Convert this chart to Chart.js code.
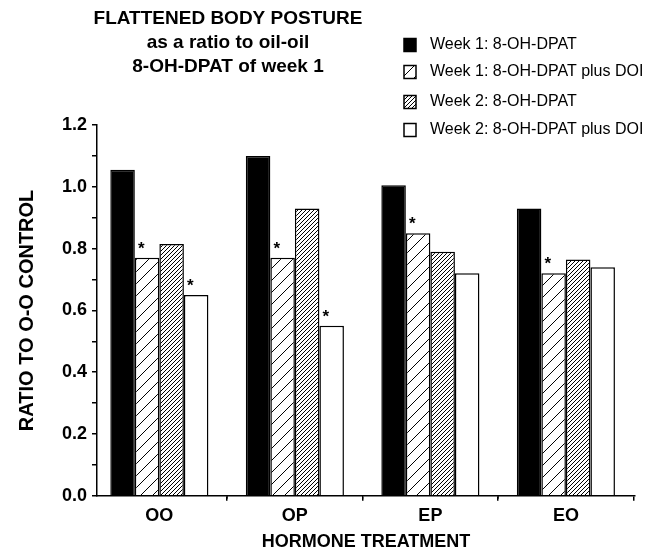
<!DOCTYPE html>
<html>
<head>
<meta charset="utf-8">
<script src="https://cdn.jsdelivr.net/npm/chart.js@4.4.1/dist/chart.umd.min.js"></script>
<style>
html,body{margin:0;padding:0;background:#fff;}
#wrap{width:650px;height:558px;position:relative;}
</style>
</head>
<body>
<div id="wrap"><canvas id="c" width="650" height="558"></canvas></div>
<script>
// ---- data ----
const categories = ['OO', 'OP', 'EP', 'EO'];
const seriesLabels = ['Week 1: 8-OH-DPAT', 'Week 1: 8-OH-DPAT plus DOI', 'Week 2: 8-OH-DPAT', 'Week 2: 8-OH-DPAT plus DOI'];
const week1Dpat      = [1.055, 1.10, 1.005, 0.93];
const week1DpatDoi   = [0.77, 0.77, 0.85, 0.72];
const week2Dpat      = [0.815, 0.93, 0.79, 0.765];
const week2DpatDoi   = [0.65, 0.55, 0.72, 0.74];
const week1DpatDoiSig = [true, true, true, true];
const week2DpatDoiSig = [true, true, false, false];
const yMajorTicks = [0, 0.2, 0.4, 0.6, 0.8, 1.0, 1.2];
const titleLines = ['FLATTENED BODY POSTURE', 'as a ratio to oil-oil', '8-OH-DPAT of week 1'];
const xTitle = 'HORMONE TREATMENT';
const yTitle = 'RATIO TO O-O CONTROL';

const FONT = '"Liberation Sans", Arial, Helvetica, sans-serif';
Chart.defaults.font.family = FONT;
Chart.defaults.color = '#000';

const canvas = document.getElementById('c');
const mainCtx = canvas.getContext('2d');

function hatch(size, lw) {
  const t = document.createElement('canvas');
  t.width = size; t.height = size;
  const x = t.getContext('2d');
  x.fillStyle = '#fff'; x.fillRect(0, 0, size, size);
  x.strokeStyle = '#000'; x.lineWidth = lw;
  x.beginPath();
  for (const k of [-1, 0, 1]) { x.moveTo(k * size, size); x.lineTo(k * size + size, 0); }
  x.stroke();
  return mainCtx.createPattern(t, 'repeat');
}
const sparse = hatch(12, 1);
const dense = hatch(4, 1);

const toPts = arr => arr.map((v, i) => ({ x: i + 1, y: v }));
const fills = ['#000', sparse, dense, '#fff'];
const series = [week1Dpat, week1DpatDoi, week2Dpat, week2DpatDoi];

const datasets = series.map((s, k) => ({
  label: seriesLabels[k],
  data: toPts(s),
  backgroundColor: fills[k],
  borderColor: '#000',
  borderWidth: 1.5,
  borderSkipped: 'bottom',
  categoryPercentage: 0.724,
  barPercentage: 1.0
}));

const sigList = [[1, week1DpatDoiSig], [3, week2DpatDoiSig]];

const annot = {
  id: 'annot',
  afterDatasetsDraw(chart) {
    const ctx = chart.ctx;
    ctx.save();
    ctx.fillStyle = '#000';
    // asterisks
    ctx.font = 'bold 17px ' + FONT;
    ctx.textAlign = 'center';
    ctx.textBaseline = 'alphabetic';
    sigList.forEach(([di, flags]) => {
      const meta = chart.getDatasetMeta(di);
      flags.forEach((f, i) => {
        if (!f) return;
        const el = meta.data[i];
        const left = el.x - el.width / 2;
        ctx.fillText('*', left + 6.5, el.y - 4);
      });
    });
    // minor x marks between categories
    const xs = chart.scales.x;
    const bottom = chart.chartArea.bottom;
    ctx.strokeStyle = '#000';
    ctx.lineWidth = 1.2;
    for (let i = 1; i < categories.length; i++) {
      const px = xs.getPixelForValue(i + 0.5);
      ctx.beginPath(); ctx.moveTo(px, bottom); ctx.lineTo(px, bottom + 3); ctx.stroke();
    }
    // title
    ctx.font = 'bold 19px ' + FONT;
    ctx.textAlign = 'center';
    ctx.textBaseline = 'middle';
    titleLines.forEach((t, i) => ctx.fillText(t, 228, 19 + i * 24));
    // legend
    ctx.font = '16px ' + FONT;
    ctx.textAlign = 'left';
    const rows = [45, 72, 102, 130];
    chart.data.datasets.forEach((ds, i) => {
      const cy = rows[i];
      ctx.fillStyle = ds.backgroundColor;
      ctx.fillRect(404, cy - 6.5, 12, 13);
      ctx.strokeStyle = '#000';
      ctx.lineWidth = 1.5;
      ctx.strokeRect(404, cy - 6.5, 12, 13);
      ctx.fillStyle = '#000';
      ctx.fillText(ds.label, 430, cy);
    });
    ctx.restore();
  }
};

new Chart(canvas, {
  type: 'bar',
  data: { datasets },
  options: {
    responsive: false,
    animation: false,
    devicePixelRatio: 1,
    layout: { padding: { left: 11, right: 15, top: 125, bottom: 1 } },
    plugins: { legend: { display: false }, tooltip: { enabled: false }, title: { display: false } },
    scales: {
      x: {
        type: 'linear',
        min: 0.54, max: 4.51,
        offset: false,
        afterBuildTicks: s => { s.ticks = categories.map((c, i) => ({ value: i + 1 })); },
        ticks: {
          callback: v => categories[Math.round(v) - 1] || '',
          font: { size: 18, weight: 'bold' }, color: '#000',
          padding: 4, maxRotation: 0, autoSkip: false
        },
        grid: { display: true, drawOnChartArea: false, drawTicks: true, tickLength: 5, color: '#000', lineWidth: 1.5 },
        border: { display: true, color: '#000', width: 1.5 },
        title: { display: true, text: xTitle, font: { size: 18, weight: 'bold' }, color: '#000', padding: { top: 1, bottom: 4 } }
      },
      y: {
        min: 0, max: 1.2,
        ticks: {
          stepSize: 0.1,
          autoSkip: false,
          callback: v => yMajorTicks.some(m => Math.abs(m - v) < 1e-6) ? v.toFixed(1) : '',
          font: { size: 18, weight: 'bold' }, color: '#000', padding: 5
        },
        grid: { display: true, drawOnChartArea: false, drawTicks: true, tickLength: 5, color: '#000', lineWidth: 1.5 },
        border: { display: true, color: '#000', width: 1.5 },
        title: { display: true, text: yTitle, font: { size: 20, weight: 'bold' }, color: '#000', padding: { top: 4, bottom: 18 } }
      }
    }
  },
  plugins: [annot]
});
</script>
</body>
</html>
